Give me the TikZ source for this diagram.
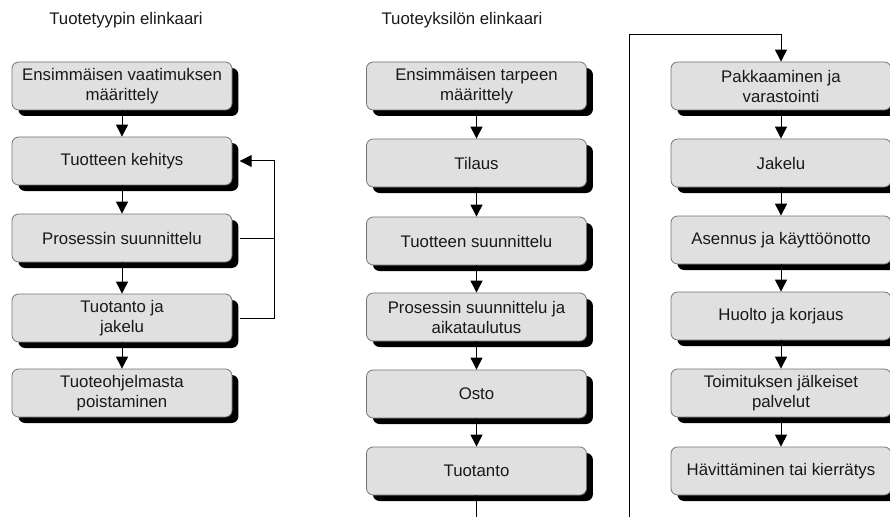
\documentclass[tikz,border=0pt]{standalone}
\usepackage{fontspec}
\setmainfont{Liberation Sans}
\usetikzlibrary{arrows.meta,shadows}
\newcommand{\boxfont}{\fontsize{12.6}{15}\selectfont}
\begin{document}
\begin{tikzpicture}[x=0.75pt,y=-0.75pt,
  box/.style={draw=black!55, line width=0.6pt, fill=black!12, rounded corners=5pt,
    minimum width=165pt, minimum height=36pt, inner sep=0pt, align=center,
    text=black!90, font=\boxfont,
    drop shadow={shadow xshift=4.8pt, shadow yshift=-4.5pt, fill=black, opacity=1}},
  ttl/.style={font=\boxfont, text=black!90, inner sep=0pt},
  arr/.style={draw=black, line width=0.75pt, -{Triangle[width=9pt,length=9pt]}},
  ln/.style={draw=black, line width=0.75pt}]
\useasboundingbox (0,0) rectangle (890,517);
% titles
\node[ttl] (t1) at (126,20) {Tuotetyypin elinkaari};
\node[ttl] (t2) at (462,20) {Tuoteyksilön elinkaari};
% left column
\node[box] (L1) at (122,86) {Ensimmäisen vaatimuksen\\määrittely};
\node[box] (L2) at (122,161) {Tuotteen kehitys};
\node[box] (L3) at (122,238) {Prosessin suunnittelu};
\node[box] (L4) at (122,318) {Tuotanto ja\\jakelu};
\node[box] (L5) at (122,393) {Tuoteohjelmasta\\poistaminen};
% middle column
\node[box] (M1) at (476.5,86) {Ensimmäisen tarpeen\\määrittely};
\node[box] (M2) at (476.5,163) {Tilaus};
\node[box] (M3) at (476.5,241) {Tuotteen suunnittelu};
\node[box] (M4) at (476.5,317) {Prosessin suunnittelu ja\\aikataulutus};
\node[box] (M5) at (476.5,394) {Osto};
\node[box] (M6) at (476.5,471) {Tuotanto};
% right column
\node[box] (R1) at (781,86) {Pakkaaminen ja\\varastointi};
\node[box] (R2) at (781,163) {Jakelu};
\node[box] (R3) at (781,240) {Asennus ja käyttöönotto};
\node[box] (R4) at (781,316) {Huolto ja korjaus};
\node[box] (R5) at (781,393) {Toimituksen jälkeiset\\palvelut};
\node[box] (R6) at (781,471) {Hävittäminen tai kierrätys};
% arrows
\foreach \a/\b in {L1/L2,L2/L3,L3/L4,L4/L5,M1/M2,M2/M3,M3/M4,M4/M5,M5/M6,R1/R2,R2/R3,R3/R4,R4/R5,R5/R6}
  \draw[arr] (\a.south) -- (\b.north);
% feedback loop
\coordinate (fb3) at (274,238);
\coordinate (fb4) at (274,318);
\coordinate (fb2) at (274,161);
\draw[ln] ([xshift=6pt]L3.east) -- (fb3);
\draw[ln] ([xshift=6pt]L4.east) -- (fb4) -- (fb3);
\draw[arr] (fb3) -- (fb2) -- ([xshift=5.5pt]L2.east);
% continuation between columns
\coordinate (mb) at (476.5,517);
\draw[ln] (M6.south) -- (mb);
\coordinate (rb) at (629,517);
\coordinate (rt) at (629,35);
\coordinate (rt2) at (781,35);
\draw[arr] (rb) -- (rt) -- (rt2) -- (R1.north);
\end{tikzpicture}
\end{document}
